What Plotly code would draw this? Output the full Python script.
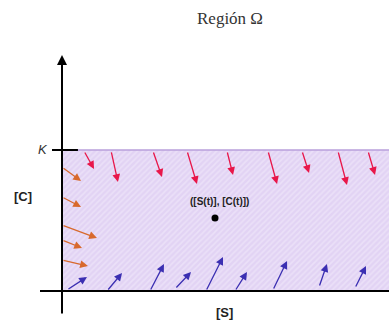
import plotly.graph_objects as go

# Phase-plane region Omega = {0 <= [S], 0 <= [C] <= K}
K = 10.0
S_MAX = 24.0

# Point ([S(t)], [C(t)]) inside the region
point_s = [10.85]
point_c = [5.18]

# Vector field on the upper boundary [C] = K (pointing inward, down)
red_tail_s = [1.56, 3.48, 6.45, 8.87, 11.70, 14.61, 17.02, 19.57, 21.70]
red_tail_c = [9.93, 9.93, 9.93, 9.93, 9.93, 9.93, 9.93, 9.93, 9.93]
red_head_s = [2.27, 3.97, 7.09, 9.57, 12.13, 15.25, 17.52, 20.21, 22.20]
red_head_c = [8.65, 7.73, 8.09, 7.59, 8.23, 7.59, 8.37, 7.52, 8.23]

# Vector field on the boundary [S] = 0 (pointing inward, right)
orange_tail_s = [0.0, 0.0, 0.0, 0.0, 0.0]
orange_tail_c = [8.79, 6.67, 4.68, 3.62, 2.20]
orange_head_s = [1.35, 1.35, 2.48, 1.42, 1.84]
orange_head_c = [7.80, 5.96, 3.76, 3.05, 1.77]

# Vector field on the boundary [C] = 0 (pointing inward, up)
blue_tail_s = [0.35, 3.19, 6.24, 8.01, 10.21, 12.27, 14.96, 18.23, 20.78]
blue_tail_c = [0.07, 0.0, 0.0, 0.14, 0.0, 0.0, 0.07, 0.28, 0.21]
blue_head_s = [1.77, 4.26, 7.23, 9.15, 11.42, 13.12, 15.96, 18.79, 21.56]
blue_head_c = [0.99, 1.28, 1.91, 1.35, 2.41, 1.35, 2.13, 1.91, 1.77]

RED = "#e8174a"
ORANGE = "#d8692c"
BLUE = "#3b2fb2"
INK = "#222222"

fig = go.Figure()

# Hatched region
fig.add_trace(go.Scatter(
    x=[0, S_MAX, S_MAX, 0, 0],
    y=[0, 0, K, K, 0],
    mode="lines",
    fill="toself",
    line=dict(color="#b9a0dc", width=1.5),
    fillcolor="#e4d7f5",
    fillpattern=dict(shape="/", bgcolor="#e2d3f4", fgcolor="#f4eefb",
                     size=4, solidity=0.4),
    hoverinfo="skip",
))

# [S] axis
fig.add_trace(go.Scatter(x=[-1.56, S_MAX], y=[0, 0], mode="lines",
                         line=dict(color="black", width=2), hoverinfo="skip"))
# K tick on the [C] axis
fig.add_trace(go.Scatter(x=[-0.71, 1.13], y=[K, K], mode="lines",
                         line=dict(color="black", width=2), hoverinfo="skip"))

# State point
fig.add_trace(go.Scatter(x=point_s, y=point_c, mode="markers",
                         marker=dict(color="black", size=7), hoverinfo="skip"))

annotations = []


def add_arrows(ts, tc, hs, hc, color):
    for a, b, c, d in zip(ts, tc, hs, hc):
        annotations.append(dict(
            x=c, y=d, ax=a, ay=b, xref="x", yref="y", axref="x", ayref="y",
            showarrow=True, arrowhead=2, arrowsize=1.2, arrowwidth=1.3,
            arrowcolor=color, standoff=0, startstandoff=0, text="",
        ))


add_arrows(red_tail_s, red_tail_c, red_head_s, red_head_c, RED)
add_arrows(orange_tail_s, orange_tail_c, orange_head_s, orange_head_c, ORANGE)
add_arrows(blue_tail_s, blue_tail_c, blue_head_s, blue_head_c, BLUE)

# [C] axis with arrowhead
annotations.append(dict(
    x=0, y=16.74, ax=0, ay=-1.70, xref="x", yref="y", axref="x", ayref="y",
    showarrow=True, arrowhead=2, arrowsize=1.0, arrowwidth=2,
    arrowcolor="black", standoff=0, startstandoff=0, text="",
))

# Text labels
annotations += [
    dict(text="Región Ω", x=0.591, y=0.941, xref="paper", yref="paper",
         xanchor="center", yanchor="middle", showarrow=False,
         font=dict(family="Liberation Serif", size=17, color="#333333")),
    dict(text="<i>K</i>", x=0.110, y=0.533, xref="paper", yref="paper",
         xanchor="center", yanchor="middle", showarrow=False,
         font=dict(family="Liberation Sans", size=13, color="#333333")),
    dict(text="<b>[C]</b>", x=0.059, y=0.387, xref="paper", yref="paper",
         xanchor="center", yanchor="middle", showarrow=False,
         font=dict(family="Liberation Sans", size=13, color=INK)),
    dict(text="<b>[S]</b>", x=0.578, y=0.028, xref="paper", yref="paper",
         xanchor="center", yanchor="middle", showarrow=False,
         font=dict(family="Liberation Sans", size=13, color=INK)),
    dict(text="<b>([S(t)], [C(t)])</b>", x=point_s[0] + 0.35, y=point_c[0] + 1.2,
         xref="x", yref="y", xanchor="center", yanchor="middle", showarrow=False,
         font=dict(family="Liberation Sans", size=10, color=INK)),
]

fig.update_layout(
    width=389, height=321,
    margin=dict(l=0, r=0, t=0, b=0),
    paper_bgcolor="white", plot_bgcolor="white",
    showlegend=False,
    xaxis=dict(range=[-4.397, 23.19], visible=False, fixedrange=True),
    yaxis=dict(range=[-2.128, 20.638], visible=False, fixedrange=True),
    annotations=annotations,
)

fig.write_html("out.html")
